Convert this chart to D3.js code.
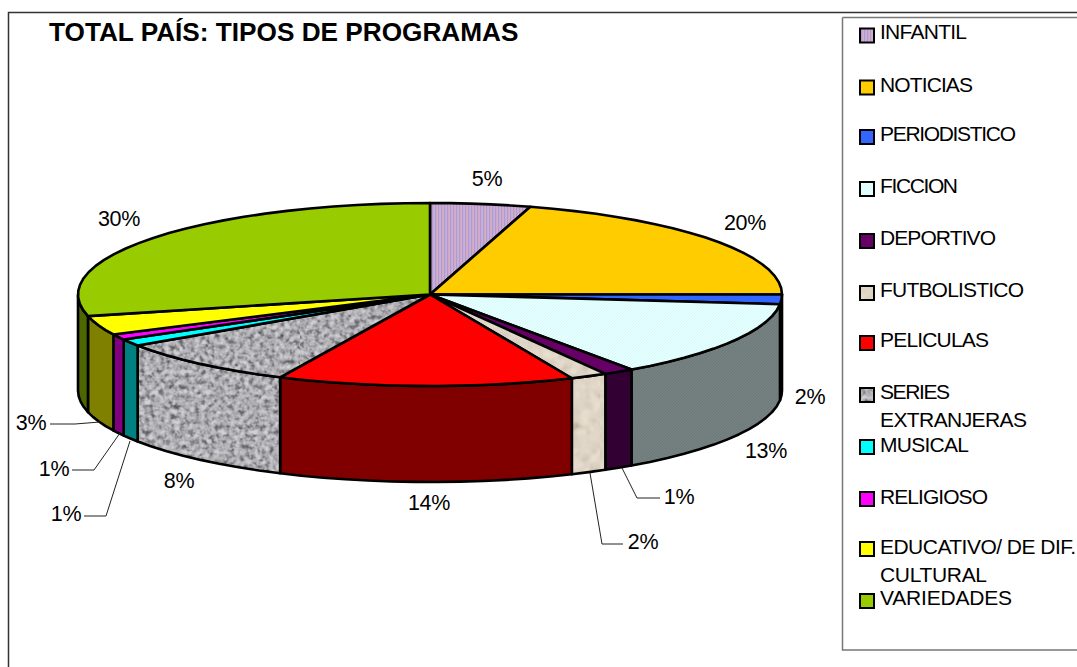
<!DOCTYPE html>
<html><head><meta charset="utf-8">
<script src="https://cdn.jsdelivr.net/npm/d3@7"></script>
<style>html,body{margin:0;padding:0;background:#fff;overflow:hidden}svg{display:block}text{font-family:"Liberation Sans",Arial,sans-serif;fill:#000}</style>
</head><body><svg id="c" width="1077" height="667"></svg>
<script>
const titleText = "TOTAL PAÍS: TIPOS DE PROGRAMAS";
const categories = ["INFANTIL","NOTICIAS","PERIODISTICO","FICCION","DEPORTIVO","FUTBOLISTICO","PELICULAS","SERIES EXTRANJERAS","MUSICAL","RELIGIOSO","EDUCATIVO/ DE DIF. CULTURAL","VARIEDADES"];
const legendLines = [["INFANTIL"],["NOTICIAS"],["PERIODISTICO"],["FICCION"],["DEPORTIVO"],["FUTBOLISTICO"],["PELICULAS"],["SERIES","EXTRANJERAS"],["MUSICAL"],["RELIGIOSO"],["EDUCATIVO/ DE DIF.","CULTURAL"],["VARIEDADES"]];
const legendWidths = [[87],[93],[136],[78],[116],[144],[109],[70,147],[89],[108],[196,107],[132]];
const values = [4.6,20.4,1.7,13.6,1.4,1.7,13.6,8.6,1.2,1.0,3.4,28.8];
const percentLabels = ["5%","20%","2%","13%","1%","2%","14%","8%","1%","1%","3%","30%"];
const topFills = ["url(#pInf)","#ffcc00","#3366ff","url(#pFic)","#660066","url(#pFut)","#ff0000","url(#pSer)","#00ffff","#ff00ff","#ffff00","#99cc00"];
const sideFills = ["#8a7a90","#806600","#1f3f9f","url(#pFicS)","#330033","url(#pFut)","#800000","url(#pSer)","#008080","#800080","#808000","#4d6600"];
const labelCenters = [[487,179],[745,223],[810,397],[766,451],[679,497],[643,542],[429,503],[179,481],[66,514],[54,469],[31,423],[119,219]];
const leaders = [null,null,null,null,[[622,468],[637,498],[660,498]],[[590,473],[602,544],[623,544]],null,null,[[130,441],[106,516],[84,516]],[[120,433],[94,470],[72,470]],[[100,422],[75,424],[50,424]],null];
const legendY = [35.5,87.5,137,189,241,293,343,395,447,499,549,601];
const legendTextY = [32,85,134,186,238,290,340,392,445,497,547,598];

const svg = d3.select("#c");
const defs = svg.append("defs");
function tile(id, w, h, bg){
  const p = defs.append("pattern").attr("id",id).attr("patternUnits","userSpaceOnUse").attr("width",w).attr("height",h);
  p.append("rect").attr("width",w).attr("height",h).attr("fill",bg);
  return p;
}
tile("pInf",3,3,"#d6aec4").append("rect").attr("width",1.2).attr("height",3).attr("fill","#a89ce0");
tile("pFic",3,3,"#e6ffff").append("path").attr("d","M0 3L3 0").attr("stroke","#d0f6f6").attr("stroke-width",0.8);
tile("pFicS",3,3,"#758181").append("path").attr("d","M0 3L3 0").attr("stroke","#6c7878").attr("stroke-width",0.8);

function noise(id, freq, seed, table){
  const f = defs.append("filter").attr("id",id).attr("x",0).attr("y",0).attr("width","100%").attr("height","100%").attr("color-interpolation-filters","sRGB");
  f.append("feTurbulence").attr("type","fractalNoise").attr("baseFrequency",freq).attr("numOctaves",2).attr("seed",seed);
  f.append("feColorMatrix").attr("type","matrix").attr("values","0.6 0.6 0.6 0 -0.4  0.6 0.6 0.6 0 -0.4  0.6 0.6 0.6 0 -0.4  0 0 0 0 1");
  const t = f.append("feComponentTransfer");
  ["R","G","B"].forEach((c,i)=>t.append("feFunc"+c).attr("type","table").attr("tableValues",table[i]));
}
noise("nSer",0.2,4,["0.3 0.46 0.68 0.8 0.84","0.3 0.46 0.68 0.8 0.84","0.32 0.48 0.7 0.82 0.86"]);
noise("nFut",0.1,7,["0.76 0.85 0.9 0.92","0.7 0.81 0.86 0.89","0.62 0.75 0.8 0.84"]);
[["pSer","nSer"],["pFut","nFut"]].forEach(([pid,nid])=>{
  const p = defs.append("pattern").attr("id",pid).attr("patternUnits","userSpaceOnUse").attr("width",300).attr("height",300);
  p.append("rect").attr("width",300).attr("height",300).attr("filter",`url(#${nid})`);
});

// frames
svg.append("path").attr("d","M8.5 667V12.5H1077").attr("fill","none").attr("stroke","#333").attr("stroke-width",1.5);
svg.append("path").attr("d","M842.5 17.5V650H1077M842.5 17.5H1077").attr("fill","none").attr("stroke","#777").attr("stroke-width",1.5);

svg.append("text").attr("x",49).attr("y",41).attr("font-size",26.2).attr("font-weight","bold").text(titleText);

// pie geometry
const x = d3.scaleLinear().domain([-1,1]).range([78,782]);
const y = d3.scaleLinear().domain([-1,1]).range([203,386]);
const depth = 96;
const arcs = d3.pie().sort(null).value(d=>d)(values);
const line = d3.line().x(d=>d[0]).y(d=>d[1]);
const pt = (a,dz=0)=>[x(Math.sin(a)), y(-Math.cos(a))+dz];
const samples = (a0,a1)=>{const n=Math.max(1,Math.ceil((a1-a0)/(Math.PI/45)));return d3.range(n+1).map(i=>a0+(a1-a0)*i/n);};
const g = svg.append("g").attr("stroke","#000").attr("stroke-width",2.6).attr("stroke-linejoin","round");
arcs.forEach((d,i)=>{
  const a0 = Math.max(d.startAngle,Math.PI/2), a1 = Math.min(d.endAngle,3*Math.PI/2);
  if(a1<=a0) return;
  const s = samples(a0,a1);
  g.append("path").attr("fill",sideFills[i]).attr("d",line([...s.map(a=>pt(a)),...s.slice().reverse().map(a=>pt(a,depth))])+"Z");
});
arcs.forEach((d,i)=>{
  g.append("path").attr("fill",topFills[i]).attr("d",line([[x(0),y(0)],...samples(d.startAngle,d.endAngle).map(a=>pt(a))])+"Z");
});

// leaders + labels
svg.append("g").selectAll("path").data(leaders.filter(Boolean)).join("path").attr("d",line).attr("fill","none").attr("stroke","#222").attr("stroke-width",1);
svg.append("g").selectAll("text").data(percentLabels).join("text")
  .attr("x",(d,i)=>labelCenters[i][0]).attr("y",(d,i)=>labelCenters[i][1]+7).attr("text-anchor","middle").attr("font-size",21.5).attr("letter-spacing",-0.3).text(d=>d);

// legend
const lg = svg.append("g");
categories.forEach((c,i)=>{
  lg.append("rect").attr("x",860).attr("y",legendY[i]-7).attr("width",14).attr("height",14).attr("fill",topFills[i]).attr("stroke","#000").attr("stroke-width",2);
  legendLines[i].forEach((t,j)=>{
    lg.append("text").attr("x",880).attr("y",legendTextY[i]+6.5+j*28).attr("font-size",21)
      .attr("textLength",legendWidths[i][j]).attr("lengthAdjust","spacing").text(t);
  });
});
</script></body></html>
